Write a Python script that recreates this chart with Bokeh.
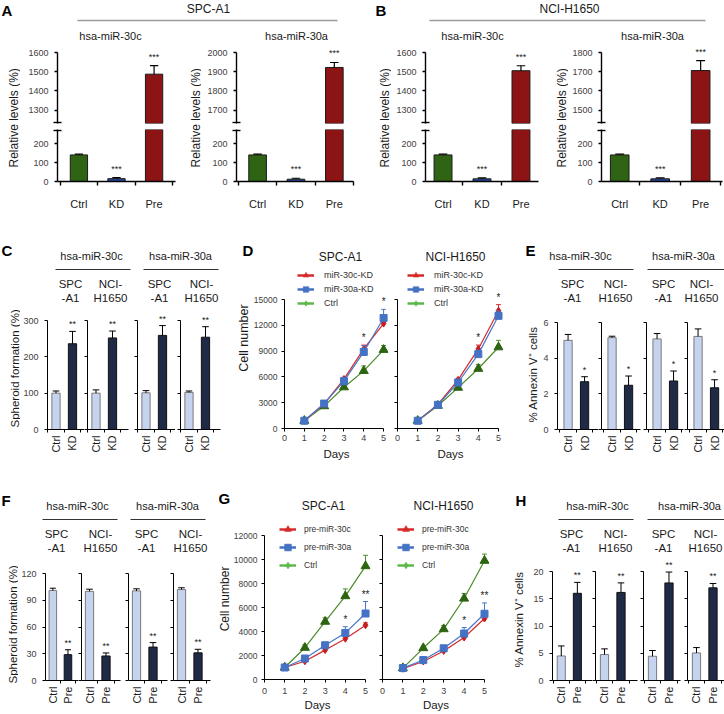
import math
from bokeh.plotting import figure
from bokeh.models import (Range1d, FixedTicker, Label, LabelSet, BoxAnnotation,
                          ColumnDataSource, Legend, LegendItem)
from bokeh.core.properties import value
from bokeh.layouts import row, column
from bokeh.embed import file_html
from bokeh.resources import INLINE

FONT = "Liberation Sans"
TXT = "#1a1a1a"
TICK_TXT = "#404040"

# ---------------- data ----------------
# A / B : relative miRNA levels
ab_groups = ["Ctrl", "KD", "Pre"]
ab_stars = ["", "***", "***"]
a_30c_vals = [140, 15, 1487]
a_30c_errs = [4, 5, 45]
a_30a_vals = [140, 12, 1922]
a_30a_errs = [4, 5, 26]
b_30c_vals = [140, 14, 1505]
b_30c_errs = [4, 5, 26]
b_30a_vals = [140, 14, 1706]
b_30a_errs = [4, 5, 52]
ab_low_ticks = [0, 100, 200]
a_30c_high_ticks = [1300, 1400, 1500, 1600]
a_30a_high_ticks = [1700, 1800, 1900, 2000]
b_30c_high_ticks = [1300, 1400, 1500, 1600]
b_30a_high_ticks = [1500, 1600, 1700, 1800]

# C : spheroid formation after knock-down
kd_groups = ["Ctrl", "KD"]
c_spc_30c = [100, 236]
c_spc_30c_err = [6, 34]
c_nci_30c = [100, 252]
c_nci_30c_err = [9, 19]
c_spc_30a = [101, 259]
c_spc_30a_err = [6, 27]
c_nci_30a = [102, 254]
c_nci_30a_err = [4, 29]
c_stars = ["", "**"]
c_ticks = [0, 100, 200, 300]

# E : annexin V after knock-down
e_spc_30c = [5.0, 2.68]
e_spc_30c_err = [0.33, 0.28]
e_nci_30c = [5.15, 2.48]
e_nci_30c_err = [0.08, 0.52]
e_spc_30a = [5.08, 2.72]
e_spc_30a_err = [0.3, 0.56]
e_nci_30a = [5.22, 2.34]
e_nci_30a_err = [0.42, 0.45]
e_stars = ["", "*"]
e_ticks = [0, 2, 4, 6]

# F : spheroid formation after pre-miR
pre_groups = ["Ctrl", "Pre"]
f_spc_30c = [101, 29]
f_spc_30c_err = [2.5, 5.5]
f_nci_30c = [100, 27.5]
f_nci_30c_err = [2.4, 3.4]
f_spc_30a = [100.5, 37.5]
f_spc_30a_err = [2.3, 5]
f_nci_30a = [102, 31]
f_nci_30a_err = [2, 4]
f_stars = ["", "**"]
f_ticks = [0, 30, 60, 90, 120]

# H : annexin V after pre-miR
h_spc_30c = [4.5, 16.0]
h_spc_30c_err = [1.84, 2.0]
h_nci_30c = [4.76, 16.16]
h_nci_30c_err = [1.04, 1.75]
h_spc_30a = [4.45, 17.9]
h_spc_30a_err = [1.05, 2.0]
h_nci_30a = [5.06, 17.0]
h_nci_30a_err = [0.98, 0.8]
h_stars = ["", "**"]
h_ticks = [0, 5, 10, 15, 20]

# D : growth curves after knock-down
days = [1, 2, 3, 4, 5]
day_ticks = [0, 1, 2, 3, 4, 5]
d_spc_kd30c = [900, 2850, 5750, 9250, 12200]
d_spc_kd30c_err = [100, 120, 200, 450, 150]
d_spc_kd30a = [900, 2900, 5500, 8900, 12850]
d_spc_kd30a_err = [100, 150, 450, 750, 1000]
d_spc_ctrl = [900, 2600, 4800, 6700, 9150]
d_spc_ctrl_err = [100, 120, 200, 580, 500]
d_nci_kd30c = [900, 2800, 5650, 9250, 13700]
d_nci_kd30c_err = [100, 120, 200, 450, 700]
d_nci_kd30a = [900, 2750, 5350, 8650, 13100]
d_nci_kd30a_err = [100, 150, 300, 450, 550]
d_nci_ctrl = [900, 2650, 4750, 6950, 9450]
d_nci_ctrl_err = [100, 120, 200, 480, 800]
d_stars = ["", "", "", "*", "*"]
d_ticks = [0, 3000, 6000, 9000, 12000, 15000]
d_legend = ["miR-30c-KD", "miR-30a-KD", "Ctrl"]

# G : growth curves after pre-miR
g_spc_pre30c = [1000, 1520, 2450, 3400, 4520]
g_spc_pre30c_err = [80, 80, 100, 150, 200]
g_spc_pre30a = [1000, 1750, 2850, 3880, 5500]
g_spc_pre30a_err = [100, 150, 250, 520, 1000]
g_spc_ctrl = [1000, 2650, 4820, 6950, 9450]
g_spc_ctrl_err = [100, 250, 320, 600, 900]
g_nci_pre30c = [900, 1500, 2380, 3500, 5080]
g_nci_pre30c_err = [80, 80, 100, 150, 200]
g_nci_pre30a = [950, 1620, 2600, 3830, 5480]
g_nci_pre30a_err = [100, 120, 200, 500, 900]
g_nci_ctrl = [950, 2620, 4200, 6750, 9900]
g_nci_ctrl_err = [100, 150, 300, 420, 550]
g_stars = ["", "", "", "*", "**"]
g_ticks = [0, 2000, 4000, 6000, 8000, 10000, 12000]
g_legend = ["pre-miR-30c", "pre-miR-30a", "Ctrl"]

# ---------------- styles ----------------
AB_COLORS = ["#2f6414", "#2748a0", "#8c1414"]
SMALL_FILL = ["#c6d3ef", "#1f2a47"]
SMALL_LINE = ["#7a7a7a", "#111111"]
SER_STYLE = [
    dict(line="#d62a2a", marker="diamond", size=7, fill="#c41e1e"),
    dict(line="#4a74c8", marker="square", size=7, fill="#4472c4"),
    dict(line="#4b8a2a", marker="triangle", size=9, fill="#2c6410"),
]
LEG_STYLE = [
    dict(color="#d62a2a", marker="triangle"),
    dict(color="#4472c4", marker="square"),
    dict(color="#5cb84a", marker="diamond"),
]
HI_SPAN = 370      # data span of the upper segment (71 px)
HI_PX = 71
LO_TOP = 274
PX_CAT = 16.5


def base(w, h, xr, yr, bl, br, bt, bb, xaxis=True, yaxis=True):
    p = figure(width=w, height=h, x_range=xr, y_range=yr, title=None,
               x_axis_location="below" if xaxis else None,
               y_axis_location="left" if yaxis else None,
               output_backend="svg", toolbar_location=None,
               min_border_left=bl, min_border_right=br,
               min_border_top=bt, min_border_bottom=bb)
    p.outline_line_color = None
    p.grid.visible = False
    return p


def blank(w, h):
    return base(w, h, Range1d(0, w), Range1d(h, 0), 0, 0, 0, 0, False, False)


def put(p, x, y, s, size=12, bold=False, align="center", baseline="middle",
        angle=0.0, color=TXT):
    p.add_layout(Label(x=x, y=y, text=s, text_font=FONT,
                       text_font_size=f"{size}px",
                       text_font_style="bold" if bold else "normal",
                       text_align=align, text_baseline=baseline,
                       angle=angle, text_color=color))


def vput(p, x, y_bottom, s, size):
    # rotated axis title, anchored at its lower end
    put(p, x, y_bottom, s, size=size, align="left", angle=math.pi / 2)


def hrule(p, x0, x1, y, color="#333333", w=1.0):
    p.add_layout(BoxAnnotation(left=x0, right=x1, top=y - w / 2, bottom=y + w / 2,
                               fill_color=color, fill_alpha=1.0, line_color=None))


def style_ax(ax, ticks, size=9, tick_out=3, standoff=5, lw=1.0, labels=True, minor=None):
    ax.axis_line_color = "#000000"
    ax.axis_line_width = lw
    ax.major_tick_line_color = "#000000"
    ax.major_tick_line_width = lw
    ax.minor_tick_line_color = "#000000"
    ax.minor_tick_line_width = lw
    ax.major_tick_in = 0
    ax.minor_tick_in = 0
    ax.major_label_text_font = FONT
    ax.major_label_text_color = TICK_TXT
    ax.major_label_text_font_size = f"{size}px"
    if labels:
        ax.ticker = FixedTicker(ticks=ticks, minor_ticks=minor or [])
        ax.major_tick_out = tick_out
        ax.minor_tick_out = 0
        ax.major_label_standoff = standoff
    else:
        ax.ticker = FixedTicker(ticks=[], minor_ticks=ticks)
        ax.major_tick_out = 0
        ax.minor_tick_out = tick_out
        ax.major_label_standoff = 0


def star_labels(p, xs, ys, texts, size=9, offset=3):
    if not xs:
        return
    src = ColumnDataSource(dict(x=xs, y=ys, t=texts))
    p.add_layout(LabelSet(x="x", y="y", text="t", source=src, text_align="center",
                          text_baseline="bottom", y_offset=offset,
                          text_font=value(FONT), text_font_size=value(f"{size}px"),
                          text_color="#222222"))


def bars_with_err(p, xs, vals, errs, fills, lines, width, cap, lw_bar, lw_err):
    if not xs:
        return
    tops = [v + e for v, e in zip(vals, errs)]
    src = ColumnDataSource(dict(x=xs, v=vals, t=tops,
                                xl=[x - cap for x in xs], xr=[x + cap for x in xs],
                                c=fills, lc=lines))
    p.vbar(x="x", top="v", bottom=0, width=width, fill_color="c", line_color="lc",
           line_width=lw_bar, source=src)
    p.segment(x0="x", y0="v", x1="x", y1="t", line_color="#000000", line_width=lw_err, source=src)
    p.segment(x0="xl", y0="t", x1="xr", y1="t", line_color="#000000", line_width=lw_err, source=src)


# ---------------- A / B split-axis bar charts ----------------
def split_unit(vals, errs, hi_ticks, xlim, ylab_w, ylab_x, cw, bl, br):
    xs = [i + 1 for i in range(len(ab_groups))]
    tops = [v + e for v, e in zip(vals, errs)]
    hi_end = hi_ticks[-1]
    hi_start = hi_end - HI_SPAN
    xr = Range1d(*xlim)
    top = base(cw, 83, xr, Range1d(hi_start, hi_end + 7 * HI_SPAN / HI_PX), bl, br, 0, 5, xaxis=False)
    bot = base(cw, 87, xr, Range1d(0, LO_TOP), bl, br, 1, 34)
    hi = [i for i in range(len(xs)) if vals[i] > hi_start]
    bars_with_err(top, [xs[i] for i in hi], [vals[i] for i in hi], [errs[i] for i in hi],
                  [AB_COLORS[i] for i in hi], ["#1a1a1a"] * len(hi), 0.46, 0.11, 1, 1.2)
    bars_with_err(bot, xs, vals, errs, AB_COLORS, ["#1a1a1a"] * len(xs), 0.46, 0.11, 1, 1.2)
    style_ax(top.yaxis[0], hi_ticks, size=9, tick_out=3, standoff=5, lw=1.4,
             minor=[hi_start + 3])
    top.yaxis.bounds = (hi_start, hi_end)
    style_ax(bot.yaxis[0], ab_low_ticks, size=9, tick_out=3, standoff=5, lw=1.4,
             minor=[LO_TOP - 3])
    for p in (top, bot):
        p.yaxis.minor_tick_in = 4
        p.yaxis.minor_tick_out = 4
    style_ax(bot.xaxis[0], xs, size=11, tick_out=0, standoff=12, lw=1.4,
             minor=[x - 0.5 for x in xs] + [xs[-1] + 0.5])
    bot.xaxis.minor_tick_out = 4
    bot.xaxis.major_label_text_color = TXT
    bot.xaxis.major_label_overrides = {x: g for x, g in zip(xs, ab_groups)}
    hs = [i for i in range(len(xs)) if ab_stars[i] and tops[i] > hi_start]
    ls = [i for i in range(len(xs)) if ab_stars[i] and tops[i] <= LO_TOP]
    star_labels(top, [xs[i] for i in hs], [tops[i] for i in hs], [ab_stars[i] for i in hs], 9, 4)
    star_labels(bot, [xs[i] for i in ls], [tops[i] for i in ls], [ab_stars[i] for i in ls], 9, 4)
    ylab = blank(ylab_w, 170)
    vput(ylab, ylab_x, 122, "Relative levels (%)", 12)
    return row(ylab, column(top, bot))


header1 = blank(724, 45)
put(header1, 1, 1, "A", size=15, bold=True, align="left", baseline="top", color="#000000")
put(header1, 208, 8, "SPC-A1", size=12)
hrule(header1, 77, 337, 20, color="#9a9a9a", w=1.5)
put(header1, 375, 1, "B", size=15, bold=True, align="left", baseline="top", color="#000000")
put(header1, 569, 8, "NCI-H1650", size=12)
hrule(header1, 429, 705, 20, color="#9a9a9a", w=1.5)
put(header1, 110, 35, "hsa-miR-30c", size=11)
put(header1, 296, 35, "hsa-miR-30a", size=11)
put(header1, 472, 35, "hsa-miR-30c", size=11)
put(header1, 652, 35, "hsa-miR-30a", size=11)

unitA1 = split_unit(a_30c_vals, a_30c_errs, a_30c_high_ticks, (0.43, 3.57), 20, 13, 163, 37, 8)
unitA2 = split_unit(a_30a_vals, a_30a_errs, a_30a_high_ticks, (0.45, 3.5), 18, 12, 161, 35, 9)
unitB1 = split_unit(b_30c_vals, b_30c_errs, b_30c_high_ticks, (0.55, 3.45), 29, 22, 155, 34, 8)
unitB2 = split_unit(b_30a_vals, b_30a_errs, b_30a_high_ticks, (0.55, 3.54), 22, 15, 156, 33, 2)
band1 = column(header1, row(unitA1, unitA2, unitB1, unitB2))


# ---------------- small bar panels (C, E, F, H) ----------------
def bar_sub(cats, vals, errs, stars, ticks, cw, ch, bl, br, bb, top_off, x0, labels):
    fw = cw - bl - br
    fh = ch - bb
    xs = [i + 1 for i in range(len(cats))]
    tops = [v + e for v, e in zip(vals, errs)]
    y_end = ticks[-1] * fh / (fh - top_off)
    p = base(cw, ch, Range1d(x0, x0 + fw / PX_CAT), Range1d(ticks[0], y_end), bl, br, 0, bb)
    bars_with_err(p, xs, vals, errs, SMALL_FILL, SMALL_LINE, 0.5, 0.2, 1, 1)
    style_ax(p.yaxis[0], ticks, size=9, tick_out=3, standoff=6, lw=1.0, labels=labels)
    p.yaxis.bounds = (ticks[0], ticks[-1])
    style_ax(p.xaxis[0], xs, size=11, tick_out=0, standoff=3, lw=1.0,
             minor=[x - 0.5 for x in xs] + [xs[-1] + 0.5])
    p.xaxis.minor_tick_out = 3
    p.xaxis.major_label_text_color = TXT
    p.xaxis.major_label_orientation = math.pi / 2
    p.xaxis.major_label_overrides = {x: g for x, g in zip(xs, cats)}
    idx = [i for i in range(len(xs)) if stars[i]]
    star_labels(p, [xs[i] for i in idx], [tops[i] for i in idx], [stars[i] for i in idx], 9, 2)
    return p


def bar_panel(cats, datasets, stars, ticks, specs, ch, bb, top_off, x0,
              ylab_w, ylab_x, ylab_bottom, ylab_text, letter_pos, head_w, head_h, head):
    letter, hsa, rules, subs_lab, y1, y2, ty, ry = head
    hdr = blank(head_w, head_h)
    for (hx, ht) in hsa:
        put(hdr, hx, ty, ht, size=11)
    for (a, b) in rules:
        hrule(hdr, a, b, ry, color="#333333", w=1.0)
    for (sx, l1, l2) in subs_lab:
        put(hdr, sx, y1, l1, size=11.5)
        put(hdr, sx, y2, l2, size=11.5)
    ylab = blank(ylab_w, head_h + ch)
    put(ylab, letter_pos[0], letter_pos[1], letter, size=15, bold=True, align="left",
        color="#000000")
    vput(ylab, ylab_x, ylab_bottom, ylab_text, 11.5)
    figs = []
    for k, ((vals, errs), (cw, bl, br)) in enumerate(zip(datasets, specs)):
        figs.append(bar_sub(cats, vals, errs, stars, ticks, cw, ch, bl, br, bb, top_off, x0, k == 0))
    return row(ylab, column(hdr, row(*figs)))


cell_labels = [("SPC", "-A1"), ("NCI-", "H1650"), ("SPC", "-A1"), ("NCI-", "H1650")]

panelC = bar_panel(
    kd_groups,
    [(c_spc_30c, c_spc_30c_err), (c_nci_30c, c_nci_30c_err),
     (c_spc_30a, c_spc_30a_err), (c_nci_30a, c_nci_30a_err)],
    c_stars, c_ticks,
    [(64, 27, 0), (48, 3, 4), (43, 5, 0), (57, 5, 12)], 160, 41, 10, 0.485,
    20, 14, 212, "Spheroid formation (%)", (1, 35), 212, 95,
    ("C", [(71, "hsa-miR-30c"), (160, "hsa-miR-30a")],
     [(35, 110), (123, 198)],
     [(x, a, b) for x, (a, b) in zip([50, 90, 139, 181], cell_labels)], 68, 82, 40, 54))

panelE = bar_panel(
    kd_groups,
    [(e_spc_30c, e_spc_30c_err), (e_nci_30c, e_nci_30c_err),
     (e_spc_30a, e_spc_30a_err), (e_nci_30a, e_nci_30a_err)],
    e_stars, e_ticks,
    [(58, 17, 0), (44, 3, 2), (42, 4, 1), (40, 3, 0)], 160, 41, 12, 0.36,
    28, 20, 207, "% Annexin V\u207a cells", (13, 35), 184, 95,
    ("E", [(40, "hsa-miR-30c"), (143, "hsa-miR-30a")],
     [(18, 93), (107, 184)],
     [(x, a, b) for x, (a, b) in zip([32, 75, 123, 161], cell_labels)], 68, 82, 40, 54))

panelF = bar_panel(
    pre_groups,
    [(f_spc_30c, f_spc_30c_err), (f_nci_30c, f_nci_30c_err),
     (f_spc_30a, f_spc_30a_err), (f_nci_30a, f_nci_30a_err)],
    f_stars, f_ticks,
    [(60, 24, 0), (44, 3, 2), (47, 6, 2), (49, 4, 8)], 151, 34, 10, 0.515,
    18, 12, 213, "Spheroid formation (%)", (1, 30), 200, 93,
    ("F", [(59, "hsa-miR-30c"), (149, "hsa-miR-30a")],
     [(24, 99), (112, 187)],
     [(x, a, b) for x, (a, b) in zip([38, 82, 128, 172], cell_labels)], 63, 77, 35, 49))

panelH = bar_panel(
    pre_groups,
    [(h_spc_30c, h_spc_30c_err), (h_nci_30c, h_nci_30c_err),
     (h_spc_30a, h_spc_30a_err), (h_nci_30a, h_nci_30a_err)],
    h_stars, h_ticks,
    [(62, 21, 0), (47, 3, 2), (44, 4, 3), (41, 4, 0)], 159, 34, 16, 0.455,
    32, 20, 197, "% Annexin V\u207a cells", (17, 30), 194, 85,
    ("H", [(67, "hsa-miR-30c"), (159, "hsa-miR-30a")],
     [(28, 103), (117, 194)],
     [(x, a, b) for x, (a, b) in zip([41, 85, 133, 175], cell_labels)], 63, 77, 35, 49))


# ---------------- growth curves (D, G) ----------------
X_PAD = 5   # px of frame kept to the right of day 5 so end markers are not cut


def growth(cw, ch, bl, br, bt, bb, top_off, ticks, series, series_err, stars, tick_labels,
           leg_labels, leg_xy, leg_h, leg_font, leg_standoff,
           tick_size, tick_standoff, lab_standoff, lab_size):
    fh = ch - bt - bb
    fw = cw - bl - br
    y_end = ticks[-1] * fh / (fh - top_off)
    x_end = day_ticks[-1] * fw / (fw - X_PAD)
    p = base(cw, ch, Range1d(day_ticks[0], x_end), Range1d(ticks[0], y_end),
             bl, br, bt, bb)
    sources = []
    for k in range(len(series)):
        vals, errs = series[k], series_err[k]
        sources.append(ColumnDataSource(dict(
            x=days, v=vals, t=[v + e for v, e in zip(vals, errs)],
            xl=[d - 0.12 for d in days], xr=[d + 0.12 for d in days])))
    for k in [2, 0, 1]:
        st, src = SER_STYLE[k], sources[k]
        p.segment(x0="x", y0="v", x1="x", y1="t", line_color=st["line"], line_width=1, source=src)
        p.segment(x0="xl", y0="t", x1="xr", y1="t", line_color=st["line"], line_width=1, source=src)
        p.line(x="x", y="v", line_color=st["line"], line_width=1.2, source=src)
        p.scatter(x="x", y="v", marker=st["marker"], size=st["size"], fill_color=st["fill"],
                  line_color=st["fill"], source=src)
    # legend keys: zero-length strokes and zero-size markers at the data points,
    # so that only the legend shows them
    items = []
    for k, (lab, st) in enumerate(zip(leg_labels, LEG_STYLE)):
        r1 = p.segment(x0="x", y0="v", x1="x", y1="v", source=sources[k],
                       line_color=st["color"], line_width=2.5, line_cap="butt")
        r2 = p.scatter(x="x", y="v", source=sources[k], marker=st["marker"], size=0,
                       fill_color=st["color"], line_color=st["color"], line_width=0.5)
        items.append(LegendItem(label=lab, renderers=[r1, r2]))
    leg = Legend(items=items, location=leg_xy, orientation="vertical",
                 label_text_font=FONT, label_text_font_size=f"{leg_font}px",
                 label_text_color="#333333", glyph_width=17, glyph_height=leg_h,
                 label_height=leg_h, label_standoff=leg_standoff, spacing=0,
                 padding=0, margin=0, border_line_color=None, background_fill_alpha=0)
    p.add_layout(leg)
    style_ax(p.xaxis[0], day_ticks, size=9, tick_out=3, standoff=tick_standoff, lw=1.0)
    p.xaxis.bounds = (day_ticks[0], day_ticks[-1])
    p.xaxis.axis_label = "Days"
    p.xaxis.axis_label_text_font = FONT
    p.xaxis.axis_label_text_font_size = f"{lab_size}px"
    p.xaxis.axis_label_text_font_style = "normal"
    p.xaxis.axis_label_text_color = TXT
    p.xaxis.axis_label_standoff = lab_standoff
    style_ax(p.yaxis[0], ticks, size=tick_size, tick_out=3, standoff=4, lw=1.0, labels=tick_labels)
    p.yaxis.bounds = (ticks[0], ticks[-1])
    star_y = [max(series[0][i] + series_err[0][i], series[1][i] + series_err[1][i])
              for i in range(len(days))]
    idx = [i for i in range(len(days)) if stars[i]]
    star_labels(p, [days[i] for i in idx], [star_y[i] for i in idx], [stars[i] for i in idx], 10, 2)
    return p


hdrD = blank(280, 47)
put(hdrD, 10, 35, "D", size=15, bold=True, align="left", color="#000000")
put(hdrD, 108, 41, "SPC-A1", size=12)
put(hdrD, 223, 41, "NCI-H1650", size=12)
ylabD = blank(18, 208)
vput(ylabD, 11, 136, "Cell number", 12.5)
D1 = growth(141, 208, 32, 3, 2, 42, 35, d_ticks,
            [d_spc_kd30c, d_spc_kd30a, d_spc_ctrl],
            [d_spc_kd30c_err, d_spc_kd30a_err, d_spc_ctrl_err],
            d_stars, True, d_legend, (13, 118), 14, 9, 10, 8.5, 3, 4, 11.5)
D2 = growth(121, 208, 6, 9, 2, 42, 35, d_ticks,
            [d_nci_kd30c, d_nci_kd30a, d_nci_ctrl],
            [d_nci_kd30c_err, d_nci_kd30a_err, d_nci_ctrl_err],
            d_stars, False, d_legend, (10, 118), 14, 9, 10, 8.5, 3, 4, 11.5)
panelD = column(hdrD, row(ylabD, D1, D2))

hdrG = blank(280, 42)
put(hdrG, 0, 28, "G", size=15, bold=True, align="left", color="#000000")
put(hdrG, 105, 35, "SPC-A1", size=12)
put(hdrG, 225, 35, "NCI-H1650", size=12)
ylabG = blank(12, 202)
vput(ylabG, 6, 143, "Cell number", 12)
G1 = growth(149, 202, 33, 9, 2, 35, 21, g_ticks,
            [g_spc_pre30c, g_spc_pre30a, g_spc_ctrl],
            [g_spc_pre30c_err, g_spc_pre30a_err, g_spc_ctrl_err],
            g_stars, True, g_legend, (15, 105), 18, 8.5, 8, 8.5, 5, 2, 11.5)
G2 = growth(119, 202, 3, 9, 2, 35, 21, g_ticks,
            [g_nci_pre30c, g_nci_pre30a, g_nci_ctrl],
            [g_nci_pre30c_err, g_nci_pre30a_err, g_nci_ctrl_err],
            g_stars, False, g_legend, (15, 105), 18, 8.5, 8, 8.5, 5, 2, 11.5)
panelG = column(hdrG, row(ylabG, G1, G2))

band2 = row(panelC, panelD, panelE)
band3 = row(panelF, panelG, panelH)
layout = column(band1, band2, band3)

open("out.html", "w").write(file_html(layout, INLINE))
